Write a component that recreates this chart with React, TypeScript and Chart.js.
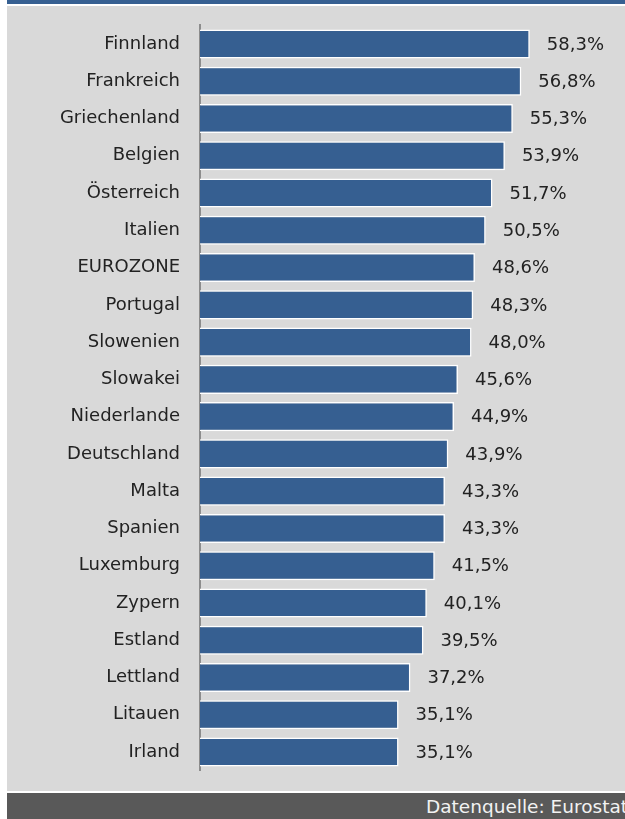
import React, { useEffect, useRef } from "react";
import { Chart, registerables } from "chart.js";

Chart.register(...registerables);

const categories = [
  "Finnland", "Frankreich", "Griechenland", "Belgien", "Österreich", "Italien",
  "EUROZONE", "Portugal", "Slowenien", "Slowakei", "Niederlande", "Deutschland",
  "Malta", "Spanien", "Luxemburg", "Zypern", "Estland", "Lettland", "Litauen", "Irland",
];
const values = [
  58.3, 56.8, 55.3, 53.9, 51.7, 50.5, 48.6, 48.3, 48.0, 45.6, 44.9, 43.9,
  43.3, 43.3, 41.5, 40.1, 39.5, 37.2, 35.1, 35.1,
];
const sourceText = "Datenquelle: Eurostat";

const BAR = "#365f91";
const FONT = "'DejaVu Sans', Verdana, sans-serif";

const valueLabels = {
  id: "valueLabels",
  afterDatasetsDraw(chart: any) {
    const ctx = chart.ctx;
    const meta = chart.getDatasetMeta(0);
    ctx.save();
    ctx.font = `18px ${FONT}`;
    ctx.fillStyle = "#222222";
    ctx.textAlign = "left";
    ctx.textBaseline = "middle";
    meta.data.forEach((bar: any, i: number) => {
      const v = values[i];
      const txt = v.toFixed(1).replace(".", ",") + "%";
      ctx.fillText(txt, bar.x + 17, bar.y + 1);
    });
    ctx.restore();
  },
};

export default function App() {
  const ref = useRef<HTMLCanvasElement>(null);
  useEffect(() => {
    if (!ref.current) return;
    const chart = new Chart(ref.current, {
      type: "bar",
      data: {
        labels: categories,
        datasets: [
          {
            data: values,
            backgroundColor: BAR,
            borderColor: "#ffffff",
            borderWidth: 1.5,
            categoryPercentage: 1,
            barPercentage: 0.78,
          },
        ],
      },
      options: {
        indexAxis: "y",
        responsive: false,
        animation: false,
        layout: { padding: { left: 0, right: 29, top: 19.4, bottom: 20.4 } },
        plugins: {
          legend: { display: false },
          tooltip: { enabled: false },
        },
        scales: {
          x: { display: false, min: 0, max: 70 },
          y: {
            grid: { display: false, drawTicks: false },
            border: { display: true, color: "#8c8c8c", width: 2 },
            ticks: {
              color: "#222222",
              padding: 20,
              font: { family: FONT, size: 18 },
            },
            afterFit(scale: any) {
              scale.width = 193;
              scale.paddingTop = 0;
              scale.paddingBottom = 0;
            },
          },
        },
      },
      plugins: [valueLabels],
    });
    return () => chart.destroy();
  }, []);

  return (
    <div style={{ position: "absolute", left: 7, top: 0, width: 618, height: 819, overflow: "hidden" }}>
      <div style={{ position: "absolute", left: 0, top: 0, width: 618, height: 4, background: BAR }} />
      <div style={{ position: "absolute", left: 0, top: 6, width: 618, height: 785, background: "#d9d9d9" }}>
        <canvas ref={ref} width={618} height={785} style={{ display: "block" }} />
      </div>
      <div
        style={{
          position: "absolute",
          left: 0,
          top: 793,
          width: 618,
          height: 26,
          background: "#595959",
          overflow: "hidden",
        }}
      >
        <span
          style={{
            position: "absolute",
            left: 419,
            top: 3,
            whiteSpace: "nowrap",
            color: "#f2f2f2",
            font: `18.5px ${FONT}`,
            lineHeight: "22px",
          }}
        >
          {sourceText}
        </span>
      </div>
    </div>
  );
}
